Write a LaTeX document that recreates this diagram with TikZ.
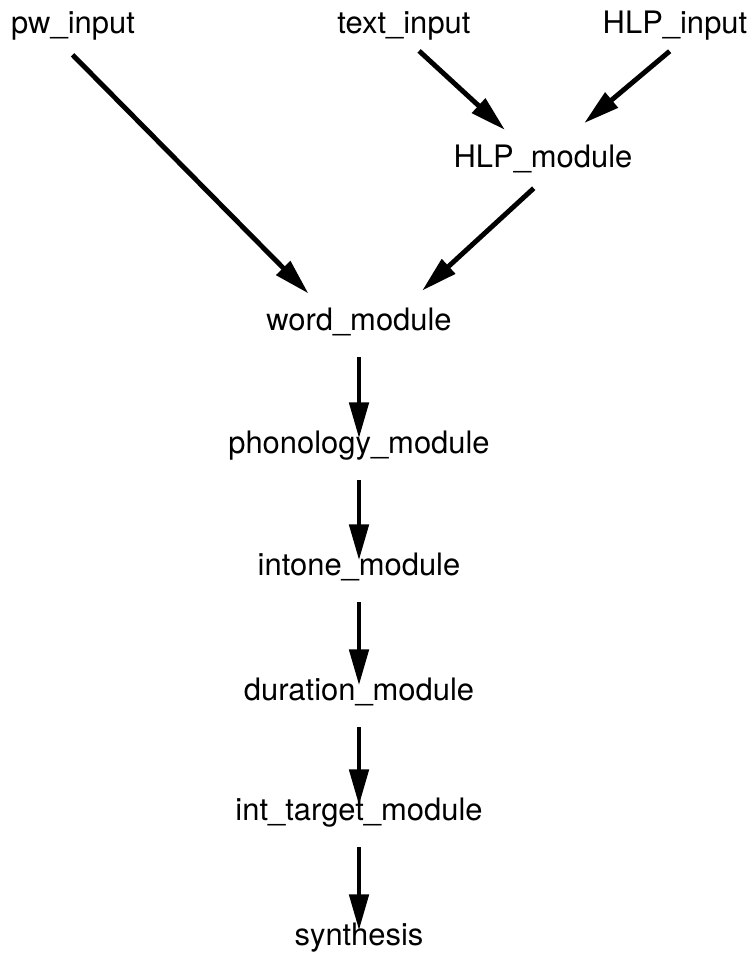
\documentclass[tikz,border=0pt]{standalone}
\usepackage{fontspec}
\setmainfont{TeX Gyre Heros}
\usetikzlibrary{arrows.meta}

\begin{document}
\begin{tikzpicture}[font=\fontsize{17.6}{20}\selectfont,
  lbl/.style={anchor=base,inner sep=0pt,text height=0.7em,text depth=0.21em},
  flow/.style={line width=2.8pt,-{Triangle[length=0.72cm,width=0.38cm]}}]
  \useasboundingbox (0,0) rectangle (15.04,-19.16);
  % inputs
  \node[lbl] (pw)     at (1.46,-0.66)  {pw\_input};
  \node[lbl] (text)   at (8.08,-0.66)  {text\_input};
  \node[lbl] (hlpin)  at (13.5,-0.66)  {HLP\_input};
  \node[lbl] (hlpmod) at (10.86,-3.34) {HLP\_module};
  % module chain
  \foreach \n/\y/\t in {word/6.60/word\_module,phon/9.06/phonology\_module,
      intone/11.50/intone\_module,dur/14.00/duration\_module,
      inttgt/16.40/int\_target\_module,synth/18.90/synthesis}
    \node[lbl] (\n) at (7.18,-\y) {\t};
  % arrows
  \draw[flow,shorten <=0.5cm,shorten >=0.67cm] ([xshift=-0.36cm]pw.south) -- ([xshift=-0.54cm]word.north);
  \draw[flow,shorten <=0.41cm,shorten >=0.72cm] (text.south) -- ([xshift=-0.23cm]hlpmod.north);
  \draw[flow,shorten <=0.44cm,shorten >=0.97cm] ([xshift=0.23cm]hlpin.south) -- ([xshift=0.08cm]hlpmod.north);
  \draw[flow,shorten <=0.51cm,shorten >=0.79cm] ([xshift=0.19cm]hlpmod.south) -- ([xshift=0.68cm]word.north);
  \foreach \a/\b in {word/phon,phon/intone,intone/dur,dur/inttgt,inttgt/synth}
    \draw[flow,shorten <=0.46cm,shorten >=0.04cm] (\a) -- (\b);
\end{tikzpicture}
\end{document}
